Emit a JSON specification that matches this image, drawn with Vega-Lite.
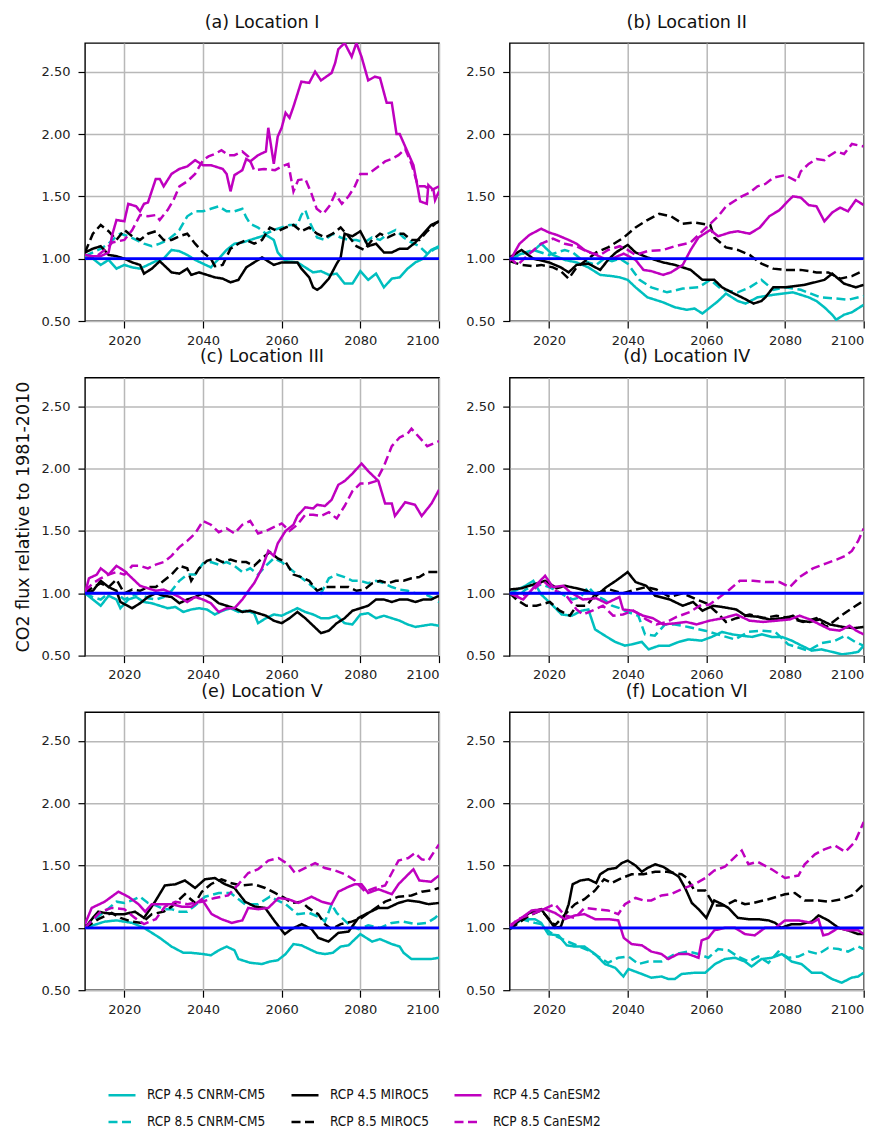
{
  "$schema": "https://vega.github.io/schema/vega-lite/v6.json",
  "padding": {"left": 13, "top": 12, "right": 5, "bottom": 5},
  "background": "#ffffff",
  "config": {
    "font": "DejaVu Sans",
    "view": {"stroke": "#000000", "strokeWidth": 1.4},
    "axis": {
      "grid": true, "gridColor": "#b8b8b8", "gridWidth": 1.5,
      "domain": false, "ticks": true, "tickColor": "#000000", "tickSize": 7, "tickWidth": 1.2,
      "labelFont": "DejaVu Sans", "labelFontSize": 13, "labelColor": "#222222",
      "titleFont": "DejaVu Sans", "titleFontSize": 17.5, "titleFontWeight": "normal", "titleColor": "#111111"
    },
    "axisX": {"labelPadding": 6},
    "axisY": {"labelPadding": 8, "titlePadding": 9},
    "title": {"font": "DejaVu Sans", "fontSize": 17.5, "fontWeight": "normal", "color": "#111111", "offset": 12, "anchor": "middle"},
    "legend": {
      "orient": "none", "legendX": 22, "legendY": 1037, "direction": "horizontal", "columns": 3,
      "columnPadding": 20, "rowPadding": 5, "padding": 0,
      "symbolType": "stroke", "symbolSize": 729, "symbolStrokeWidth": 2.6,
      "labelFont": "DejaVu Sans Condensed, Liberation Sans Narrow, DejaVu Sans", "labelFontSize": 13.5, "labelColor": "#111111",
      "labelOffset": 10, "labelLimit": 300
    }
  },
  "datasets": {
    "locI": [
      {"run":"cn45","year":2010,"flux":1.02},{"run":"cn45","year":2012,"flux":1.0},{"run":"cn45","year":2014,"flux":0.95},{"run":"cn45","year":2016,"flux":0.99},{"run":"cn45","year":2018,"flux":0.92},{"run":"cn45","year":2020,"flux":0.95},{"run":"cn45","year":2022,"flux":0.93},{"run":"cn45","year":2024,"flux":0.92},{"run":"cn45","year":2026,"flux":0.95},{"run":"cn45","year":2028,"flux":0.98},{"run":"cn45","year":2030,"flux":1.0},{"run":"cn45","year":2032,"flux":1.07},{"run":"cn45","year":2034,"flux":1.06},{"run":"cn45","year":2036,"flux":1.03},{"run":"cn45","year":2038,"flux":0.99},{"run":"cn45","year":2040,"flux":0.96},{"run":"cn45","year":2042,"flux":0.93},{"run":"cn45","year":2044,"flux":1.0},{"run":"cn45","year":2046,"flux":1.07},{"run":"cn45","year":2048,"flux":1.12},{"run":"cn45","year":2050,"flux":1.13},{"run":"cn45","year":2052,"flux":1.15},{"run":"cn45","year":2054,"flux":1.17},{"run":"cn45","year":2056,"flux":1.19},{"run":"cn45","year":2058,"flux":1.15},{"run":"cn45","year":2059,"flux":1.05},{"run":"cn45","year":2061,"flux":0.98},{"run":"cn45","year":2064,"flux":0.97},{"run":"cn45","year":2066,"flux":0.93},{"run":"cn45","year":2068,"flux":0.89},{"run":"cn45","year":2070,"flux":0.9},{"run":"cn45","year":2072,"flux":0.87},{"run":"cn45","year":2074,"flux":0.88},{"run":"cn45","year":2076,"flux":0.8},{"run":"cn45","year":2078,"flux":0.8},{"run":"cn45","year":2080,"flux":0.9},{"run":"cn45","year":2082,"flux":0.83},{"run":"cn45","year":2084,"flux":0.88},{"run":"cn45","year":2086,"flux":0.77},{"run":"cn45","year":2088,"flux":0.84},{"run":"cn45","year":2090,"flux":0.85},{"run":"cn45","year":2092,"flux":0.92},{"run":"cn45","year":2094,"flux":0.97},{"run":"cn45","year":2096,"flux":1.0},{"run":"cn45","year":2098,"flux":1.07},{"run":"cn45","year":2100,"flux":1.1},
      {"run":"cn85","year":2010,"flux":1.02},{"run":"cn85","year":2012,"flux":1.05},{"run":"cn85","year":2014,"flux":1.08},{"run":"cn85","year":2016,"flux":1.12},{"run":"cn85","year":2018,"flux":1.18},{"run":"cn85","year":2019,"flux":1.2},{"run":"cn85","year":2021,"flux":1.18},{"run":"cn85","year":2023,"flux":1.15},{"run":"cn85","year":2025,"flux":1.12},{"run":"cn85","year":2027,"flux":1.1},{"run":"cn85","year":2029,"flux":1.12},{"run":"cn85","year":2031,"flux":1.15},{"run":"cn85","year":2033,"flux":1.2},{"run":"cn85","year":2034,"flux":1.23},{"run":"cn85","year":2036,"flux":1.34},{"run":"cn85","year":2038,"flux":1.38},{"run":"cn85","year":2040,"flux":1.38},{"run":"cn85","year":2042,"flux":1.4},{"run":"cn85","year":2044,"flux":1.42},{"run":"cn85","year":2046,"flux":1.38},{"run":"cn85","year":2048,"flux":1.38},{"run":"cn85","year":2050,"flux":1.4},{"run":"cn85","year":2051,"flux":1.33},{"run":"cn85","year":2052,"flux":1.28},{"run":"cn85","year":2054,"flux":1.25},{"run":"cn85","year":2056,"flux":1.2},{"run":"cn85","year":2058,"flux":1.23},{"run":"cn85","year":2060,"flux":1.25},{"run":"cn85","year":2062,"flux":1.27},{"run":"cn85","year":2064,"flux":1.27},{"run":"cn85","year":2065,"flux":1.35},{"run":"cn85","year":2066,"flux":1.39},{"run":"cn85","year":2067,"flux":1.3},{"run":"cn85","year":2069,"flux":1.17},{"run":"cn85","year":2071,"flux":1.15},{"run":"cn85","year":2073,"flux":1.2},{"run":"cn85","year":2075,"flux":1.17},{"run":"cn85","year":2077,"flux":1.15},{"run":"cn85","year":2079,"flux":1.15},{"run":"cn85","year":2081,"flux":1.13},{"run":"cn85","year":2083,"flux":1.17},{"run":"cn85","year":2085,"flux":1.15},{"run":"cn85","year":2087,"flux":1.2},{"run":"cn85","year":2089,"flux":1.23},{"run":"cn85","year":2091,"flux":1.17},{"run":"cn85","year":2093,"flux":1.13},{"run":"cn85","year":2095,"flux":1.1},{"run":"cn85","year":2097,"flux":1.04},{"run":"cn85","year":2099,"flux":1.08},{"run":"cn85","year":2100,"flux":1.09},
      {"run":"mi45","year":2010,"flux":1.05},{"run":"mi45","year":2012,"flux":1.08},{"run":"mi45","year":2014,"flux":1.1},{"run":"mi45","year":2016,"flux":1.03},{"run":"mi45","year":2018,"flux":1.02},{"run":"mi45","year":2020,"flux":1.0},{"run":"mi45","year":2022,"flux":0.97},{"run":"mi45","year":2024,"flux":0.95},{"run":"mi45","year":2025,"flux":0.88},{"run":"mi45","year":2027,"flux":0.92},{"run":"mi45","year":2029,"flux":0.98},{"run":"mi45","year":2030,"flux":0.95},{"run":"mi45","year":2032,"flux":0.89},{"run":"mi45","year":2034,"flux":0.88},{"run":"mi45","year":2036,"flux":0.92},{"run":"mi45","year":2037,"flux":0.87},{"run":"mi45","year":2039,"flux":0.89},{"run":"mi45","year":2041,"flux":0.87},{"run":"mi45","year":2043,"flux":0.85},{"run":"mi45","year":2045,"flux":0.84},{"run":"mi45","year":2047,"flux":0.81},{"run":"mi45","year":2049,"flux":0.83},{"run":"mi45","year":2051,"flux":0.93},{"run":"mi45","year":2053,"flux":0.97},{"run":"mi45","year":2055,"flux":1.01},{"run":"mi45","year":2057,"flux":0.97},{"run":"mi45","year":2058,"flux":0.95},{"run":"mi45","year":2060,"flux":0.97},{"run":"mi45","year":2062,"flux":0.97},{"run":"mi45","year":2064,"flux":0.97},{"run":"mi45","year":2065,"flux":0.92},{"run":"mi45","year":2067,"flux":0.85},{"run":"mi45","year":2068,"flux":0.77},{"run":"mi45","year":2069,"flux":0.75},{"run":"mi45","year":2070,"flux":0.77},{"run":"mi45","year":2072,"flux":0.84},{"run":"mi45","year":2074,"flux":0.96},{"run":"mi45","year":2075,"flux":1.01},{"run":"mi45","year":2076,"flux":1.2},{"run":"mi45","year":2078,"flux":1.18},{"run":"mi45","year":2080,"flux":1.22},{"run":"mi45","year":2082,"flux":1.1},{"run":"mi45","year":2084,"flux":1.12},{"run":"mi45","year":2086,"flux":1.05},{"run":"mi45","year":2088,"flux":1.05},{"run":"mi45","year":2090,"flux":1.08},{"run":"mi45","year":2092,"flux":1.08},{"run":"mi45","year":2094,"flux":1.13},{"run":"mi45","year":2096,"flux":1.2},{"run":"mi45","year":2098,"flux":1.27},{"run":"mi45","year":2100,"flux":1.3},
      {"run":"mi85","year":2010,"flux":1.05},{"run":"mi85","year":2012,"flux":1.2},{"run":"mi85","year":2014,"flux":1.27},{"run":"mi85","year":2016,"flux":1.22},{"run":"mi85","year":2018,"flux":1.15},{"run":"mi85","year":2020,"flux":1.23},{"run":"mi85","year":2022,"flux":1.18},{"run":"mi85","year":2024,"flux":1.15},{"run":"mi85","year":2026,"flux":1.2},{"run":"mi85","year":2028,"flux":1.22},{"run":"mi85","year":2030,"flux":1.15},{"run":"mi85","year":2032,"flux":1.15},{"run":"mi85","year":2034,"flux":1.18},{"run":"mi85","year":2036,"flux":1.2},{"run":"mi85","year":2038,"flux":1.12},{"run":"mi85","year":2040,"flux":1.05},{"run":"mi85","year":2042,"flux":1.0},{"run":"mi85","year":2043,"flux":0.94},{"run":"mi85","year":2045,"flux":0.95},{"run":"mi85","year":2047,"flux":1.08},{"run":"mi85","year":2049,"flux":1.12},{"run":"mi85","year":2051,"flux":1.15},{"run":"mi85","year":2053,"flux":1.12},{"run":"mi85","year":2055,"flux":1.15},{"run":"mi85","year":2057,"flux":1.25},{"run":"mi85","year":2059,"flux":1.22},{"run":"mi85","year":2061,"flux":1.25},{"run":"mi85","year":2063,"flux":1.27},{"run":"mi85","year":2065,"flux":1.22},{"run":"mi85","year":2067,"flux":1.25},{"run":"mi85","year":2069,"flux":1.2},{"run":"mi85","year":2071,"flux":1.17},{"run":"mi85","year":2073,"flux":1.2},{"run":"mi85","year":2075,"flux":1.25},{"run":"mi85","year":2077,"flux":1.18},{"run":"mi85","year":2079,"flux":1.1},{"run":"mi85","year":2081,"flux":1.07},{"run":"mi85","year":2083,"flux":1.15},{"run":"mi85","year":2085,"flux":1.2},{"run":"mi85","year":2087,"flux":1.17},{"run":"mi85","year":2089,"flux":1.2},{"run":"mi85","year":2091,"flux":1.2},{"run":"mi85","year":2093,"flux":1.15},{"run":"mi85","year":2095,"flux":1.15},{"run":"mi85","year":2097,"flux":1.22},{"run":"mi85","year":2099,"flux":1.28},{"run":"mi85","year":2100,"flux":1.3},
      {"run":"ca45","year":2010,"flux":1.03},{"run":"ca45","year":2012,"flux":1.02},{"run":"ca45","year":2014,"flux":1.02},{"run":"ca45","year":2016,"flux":1.05},{"run":"ca45","year":2017,"flux":1.2},{"run":"ca45","year":2018,"flux":1.31},{"run":"ca45","year":2020,"flux":1.3},{"run":"ca45","year":2021,"flux":1.44},{"run":"ca45","year":2023,"flux":1.42},{"run":"ca45","year":2024,"flux":1.38},{"run":"ca45","year":2025,"flux":1.44},{"run":"ca45","year":2026,"flux":1.45},{"run":"ca45","year":2028,"flux":1.64},{"run":"ca45","year":2029,"flux":1.64},{"run":"ca45","year":2030,"flux":1.58},{"run":"ca45","year":2032,"flux":1.68},{"run":"ca45","year":2034,"flux":1.72},{"run":"ca45","year":2036,"flux":1.74},{"run":"ca45","year":2038,"flux":1.79},{"run":"ca45","year":2040,"flux":1.75},{"run":"ca45","year":2042,"flux":1.75},{"run":"ca45","year":2045,"flux":1.72},{"run":"ca45","year":2046,"flux":1.68},{"run":"ca45","year":2047,"flux":1.54},{"run":"ca45","year":2048,"flux":1.67},{"run":"ca45","year":2050,"flux":1.71},{"run":"ca45","year":2051,"flux":1.8},{"run":"ca45","year":2052,"flux":1.78},{"run":"ca45","year":2054,"flux":1.83},{"run":"ca45","year":2056,"flux":1.86},{"run":"ca45","year":2056.6,"flux":2.05},{"run":"ca45","year":2058,"flux":1.76},{"run":"ca45","year":2059,"flux":1.98},{"run":"ca45","year":2060,"flux":2.05},{"run":"ca45","year":2061,"flux":2.17},{"run":"ca45","year":2062,"flux":2.13},{"run":"ca45","year":2063,"flux":2.22},{"run":"ca45","year":2065,"flux":2.42},{"run":"ca45","year":2067,"flux":2.41},{"run":"ca45","year":2068.5,"flux":2.5},{"run":"ca45","year":2070,"flux":2.43},{"run":"ca45","year":2072.7,"flux":2.49},{"run":"ca45","year":2073.6,"flux":2.57},{"run":"ca45","year":2074.4,"flux":2.68},{"run":"ca45","year":2076,"flux":2.73},{"run":"ca45","year":2077.8,"flux":2.62},{"run":"ca45","year":2079,"flux":2.73},{"run":"ca45","year":2080.3,"flux":2.62},{"run":"ca45","year":2082,"flux":2.43},{"run":"ca45","year":2083.7,"flux":2.46},{"run":"ca45","year":2085,"flux":2.45},{"run":"ca45","year":2086.7,"flux":2.25},{"run":"ca45","year":2088,"flux":2.25},{"run":"ca45","year":2089.2,"flux":2.0},{"run":"ca45","year":2090,"flux":2.0},{"run":"ca45","year":2091.4,"flux":1.9},{"run":"ca45","year":2093.5,"flux":1.75},{"run":"ca45","year":2094.7,"flux":1.55},{"run":"ca45","year":2095.2,"flux":1.46},{"run":"ca45","year":2096.9,"flux":1.44},{"run":"ca45","year":2097.3,"flux":1.59},{"run":"ca45","year":2098.6,"flux":1.55},{"run":"ca45","year":2099,"flux":1.47},{"run":"ca45","year":2100,"flux":1.54},
      {"run":"ca85","year":2010,"flux":1.0},{"run":"ca85","year":2013,"flux":1.02},{"run":"ca85","year":2015,"flux":1.07},{"run":"ca85","year":2017,"flux":1.13},{"run":"ca85","year":2020,"flux":1.15},{"run":"ca85","year":2022,"flux":1.23},{"run":"ca85","year":2024,"flux":1.35},{"run":"ca85","year":2026,"flux":1.34},{"run":"ca85","year":2028,"flux":1.35},{"run":"ca85","year":2029,"flux":1.31},{"run":"ca85","year":2031,"flux":1.39},{"run":"ca85","year":2032.5,"flux":1.47},{"run":"ca85","year":2034,"flux":1.58},{"run":"ca85","year":2036,"flux":1.62},{"run":"ca85","year":2038,"flux":1.68},{"run":"ca85","year":2040,"flux":1.79},{"run":"ca85","year":2041.4,"flux":1.82},{"run":"ca85","year":2043,"flux":1.84},{"run":"ca85","year":2044.7,"flux":1.87},{"run":"ca85","year":2046.4,"flux":1.83},{"run":"ca85","year":2048,"flux":1.83},{"run":"ca85","year":2050,"flux":1.86},{"run":"ca85","year":2051.5,"flux":1.82},{"run":"ca85","year":2053,"flux":1.71},{"run":"ca85","year":2055.5,"flux":1.72},{"run":"ca85","year":2058.3,"flux":1.71},{"run":"ca85","year":2060,"flux":1.74},{"run":"ca85","year":2061.7,"flux":1.76},{"run":"ca85","year":2063,"flux":1.54},{"run":"ca85","year":2064.2,"flux":1.63},{"run":"ca85","year":2066,"flux":1.64},{"run":"ca85","year":2067.6,"flux":1.52},{"run":"ca85","year":2068.9,"flux":1.4},{"run":"ca85","year":2070.6,"flux":1.36},{"run":"ca85","year":2072.3,"flux":1.43},{"run":"ca85","year":2073.6,"flux":1.52},{"run":"ca85","year":2075.3,"flux":1.44},{"run":"ca85","year":2077,"flux":1.5},{"run":"ca85","year":2078.6,"flux":1.58},{"run":"ca85","year":2080,"flux":1.68},{"run":"ca85","year":2082,"flux":1.68},{"run":"ca85","year":2084.6,"flux":1.74},{"run":"ca85","year":2086.3,"flux":1.78},{"run":"ca85","year":2088,"flux":1.8},{"run":"ca85","year":2089.7,"flux":1.83},{"run":"ca85","year":2091.4,"flux":1.88},{"run":"ca85","year":2093,"flux":1.76},{"run":"ca85","year":2094.7,"flux":1.58},{"run":"ca85","year":2096.4,"flux":1.58},{"run":"ca85","year":2098.1,"flux":1.55},{"run":"ca85","year":2100,"flux":1.58}
    ],
    "locII": [
      {"run":"cn45","year":2010,"flux":1.0},{"run":"cn45","year":2013,"flux":1.04},{"run":"cn45","year":2016,"flux":1.06},{"run":"cn45","year":2018,"flux":1.12},{"run":"cn45","year":2021,"flux":1.03},{"run":"cn45","year":2024,"flux":0.99},{"run":"cn45","year":2027,"flux":0.97},{"run":"cn45","year":2030,"flux":0.93},{"run":"cn45","year":2033,"flux":0.87},{"run":"cn45","year":2036,"flux":0.86},{"run":"cn45","year":2038,"flux":0.85},{"run":"cn45","year":2040,"flux":0.83},{"run":"cn45","year":2042,"flux":0.77},{"run":"cn45","year":2045,"flux":0.69},{"run":"cn45","year":2049,"flux":0.65},{"run":"cn45","year":2052,"flux":0.61},{"run":"cn45","year":2055,"flux":0.59},{"run":"cn45","year":2057,"flux":0.6},{"run":"cn45","year":2059,"flux":0.56},{"run":"cn45","year":2061,"flux":0.61},{"run":"cn45","year":2063,"flux":0.66},{"run":"cn45","year":2065,"flux":0.72},{"run":"cn45","year":2068,"flux":0.66},{"run":"cn45","year":2070,"flux":0.64},{"run":"cn45","year":2073,"flux":0.69},{"run":"cn45","year":2077,"flux":0.71},{"run":"cn45","year":2082,"flux":0.73},{"run":"cn45","year":2086,"flux":0.69},{"run":"cn45","year":2088,"flux":0.66},{"run":"cn45","year":2090,"flux":0.61},{"run":"cn45","year":2092,"flux":0.55},{"run":"cn45","year":2093,"flux":0.51},{"run":"cn45","year":2095,"flux":0.55},{"run":"cn45","year":2097,"flux":0.57},{"run":"cn45","year":2100,"flux":0.63},
      {"run":"cn85","year":2010,"flux":1.0},{"run":"cn85","year":2012,"flux":1.02},{"run":"cn85","year":2014,"flux":1.05},{"run":"cn85","year":2016,"flux":1.07},{"run":"cn85","year":2018,"flux":1.05},{"run":"cn85","year":2020,"flux":1.03},{"run":"cn85","year":2022,"flux":1.05},{"run":"cn85","year":2024,"flux":1.07},{"run":"cn85","year":2026,"flux":1.05},{"run":"cn85","year":2028,"flux":1.0},{"run":"cn85","year":2030,"flux":0.97},{"run":"cn85","year":2032,"flux":0.95},{"run":"cn85","year":2034,"flux":1.0},{"run":"cn85","year":2036,"flux":0.98},{"run":"cn85","year":2038,"flux":1.0},{"run":"cn85","year":2040,"flux":0.96},{"run":"cn85","year":2043,"flux":0.83},{"run":"cn85","year":2046,"flux":0.77},{"run":"cn85","year":2050,"flux":0.73},{"run":"cn85","year":2054,"flux":0.76},{"run":"cn85","year":2058,"flux":0.77},{"run":"cn85","year":2061,"flux":0.83},{"run":"cn85","year":2064,"flux":0.75},{"run":"cn85","year":2068,"flux":0.73},{"run":"cn85","year":2071,"flux":0.77},{"run":"cn85","year":2074,"flux":0.83},{"run":"cn85","year":2077,"flux":0.75},{"run":"cn85","year":2080,"flux":0.77},{"run":"cn85","year":2084,"flux":0.75},{"run":"cn85","year":2089,"flux":0.69},{"run":"cn85","year":2093,"flux":0.68},{"run":"cn85","year":2096,"flux":0.67},{"run":"cn85","year":2100,"flux":0.7},
      {"run":"mi45","year":2010,"flux":1.01},{"run":"mi45","year":2013,"flux":1.07},{"run":"mi45","year":2016,"flux":1.0},{"run":"mi45","year":2020,"flux":0.97},{"run":"mi45","year":2023,"flux":0.93},{"run":"mi45","year":2025,"flux":0.89},{"run":"mi45","year":2027,"flux":0.95},{"run":"mi45","year":2030,"flux":0.96},{"run":"mi45","year":2033,"flux":0.91},{"run":"mi45","year":2035,"flux":0.99},{"run":"mi45","year":2037,"flux":1.05},{"run":"mi45","year":2040,"flux":1.11},{"run":"mi45","year":2042,"flux":1.05},{"run":"mi45","year":2045,"flux":1.01},{"run":"mi45","year":2049,"flux":0.97},{"run":"mi45","year":2052,"flux":0.95},{"run":"mi45","year":2056,"flux":0.91},{"run":"mi45","year":2059,"flux":0.83},{"run":"mi45","year":2062,"flux":0.83},{"run":"mi45","year":2064,"flux":0.77},{"run":"mi45","year":2067,"flux":0.72},{"run":"mi45","year":2069,"flux":0.69},{"run":"mi45","year":2072,"flux":0.64},{"run":"mi45","year":2074,"flux":0.66},{"run":"mi45","year":2075,"flux":0.69},{"run":"mi45","year":2077,"flux":0.77},{"run":"mi45","year":2080,"flux":0.77},{"run":"mi45","year":2085,"flux":0.79},{"run":"mi45","year":2090,"flux":0.83},{"run":"mi45","year":2092,"flux":0.88},{"run":"mi45","year":2095,"flux":0.8},{"run":"mi45","year":2098,"flux":0.77},{"run":"mi45","year":2100,"flux":0.79},
      {"run":"mi85","year":2010,"flux":0.98},{"run":"mi85","year":2013,"flux":0.95},{"run":"mi85","year":2016,"flux":0.94},{"run":"mi85","year":2018,"flux":0.95},{"run":"mi85","year":2021,"flux":0.93},{"run":"mi85","year":2023,"flux":0.9},{"run":"mi85","year":2025,"flux":0.84},{"run":"mi85","year":2027,"flux":0.93},{"run":"mi85","year":2030,"flux":1.0},{"run":"mi85","year":2032,"flux":1.05},{"run":"mi85","year":2035,"flux":1.09},{"run":"mi85","year":2039,"flux":1.17},{"run":"mi85","year":2042,"flux":1.25},{"run":"mi85","year":2045,"flux":1.31},{"run":"mi85","year":2048,"flux":1.36},{"run":"mi85","year":2051,"flux":1.34},{"run":"mi85","year":2054,"flux":1.28},{"run":"mi85","year":2057,"flux":1.29},{"run":"mi85","year":2061,"flux":1.27},{"run":"mi85","year":2062,"flux":1.17},{"run":"mi85","year":2065,"flux":1.09},{"run":"mi85","year":2068,"flux":1.07},{"run":"mi85","year":2071,"flux":1.03},{"run":"mi85","year":2074,"flux":0.96},{"run":"mi85","year":2077,"flux":0.92},{"run":"mi85","year":2080,"flux":0.91},{"run":"mi85","year":2084,"flux":0.91},{"run":"mi85","year":2088,"flux":0.89},{"run":"mi85","year":2091,"flux":0.89},{"run":"mi85","year":2094,"flux":0.84},{"run":"mi85","year":2097,"flux":0.86},{"run":"mi85","year":2099,"flux":0.89},{"run":"mi85","year":2100,"flux":0.88},
      {"run":"ca45","year":2010,"flux":0.98},{"run":"ca45","year":2012.5,"flux":1.12},{"run":"ca45","year":2015,"flux":1.19},{"run":"ca45","year":2018,"flux":1.24},{"run":"ca45","year":2020,"flux":1.21},{"run":"ca45","year":2022,"flux":1.19},{"run":"ca45","year":2025,"flux":1.15},{"run":"ca45","year":2027,"flux":1.12},{"run":"ca45","year":2029,"flux":1.07},{"run":"ca45","year":2032,"flux":1.03},{"run":"ca45","year":2034,"flux":1.0},{"run":"ca45","year":2036,"flux":1.0},{"run":"ca45","year":2039,"flux":1.04},{"run":"ca45","year":2042,"flux":0.99},{"run":"ca45","year":2044,"flux":0.91},{"run":"ca45","year":2046,"flux":0.9},{"run":"ca45","year":2049,"flux":0.87},{"run":"ca45","year":2051,"flux":0.89},{"run":"ca45","year":2054,"flux":0.95},{"run":"ca45","year":2056,"flux":1.07},{"run":"ca45","year":2058,"flux":1.17},{"run":"ca45","year":2061,"flux":1.23},{"run":"ca45","year":2063,"flux":1.18},{"run":"ca45","year":2066,"flux":1.21},{"run":"ca45","year":2068,"flux":1.22},{"run":"ca45","year":2071,"flux":1.2},{"run":"ca45","year":2073.6,"flux":1.25},{"run":"ca45","year":2076,"flux":1.34},{"run":"ca45","year":2078.6,"flux":1.39},{"run":"ca45","year":2081,"flux":1.47},{"run":"ca45","year":2082,"flux":1.5},{"run":"ca45","year":2084,"flux":1.49},{"run":"ca45","year":2086,"flux":1.43},{"run":"ca45","year":2088,"flux":1.42},{"run":"ca45","year":2090,"flux":1.3},{"run":"ca45","year":2092,"flux":1.37},{"run":"ca45","year":2094,"flux":1.41},{"run":"ca45","year":2096,"flux":1.38},{"run":"ca45","year":2098,"flux":1.47},{"run":"ca45","year":2100,"flux":1.43},
      {"run":"ca85","year":2010,"flux":1.01},{"run":"ca85","year":2012,"flux":0.95},{"run":"ca85","year":2015,"flux":1.04},{"run":"ca85","year":2018,"flux":1.12},{"run":"ca85","year":2021,"flux":1.16},{"run":"ca85","year":2024,"flux":1.12},{"run":"ca85","year":2027,"flux":1.1},{"run":"ca85","year":2030,"flux":1.05},{"run":"ca85","year":2033,"flux":1.03},{"run":"ca85","year":2035,"flux":1.07},{"run":"ca85","year":2038,"flux":1.1},{"run":"ca85","year":2040,"flux":1.07},{"run":"ca85","year":2042,"flux":1.03},{"run":"ca85","year":2045,"flux":1.06},{"run":"ca85","year":2049,"flux":1.07},{"run":"ca85","year":2052,"flux":1.1},{"run":"ca85","year":2056,"flux":1.13},{"run":"ca85","year":2058,"flux":1.19},{"run":"ca85","year":2061,"flux":1.28},{"run":"ca85","year":2063,"flux":1.34},{"run":"ca85","year":2065,"flux":1.42},{"run":"ca85","year":2069,"flux":1.5},{"run":"ca85","year":2071,"flux":1.53},{"run":"ca85","year":2073,"flux":1.58},{"run":"ca85","year":2075,"flux":1.6},{"run":"ca85","year":2077,"flux":1.65},{"run":"ca85","year":2080,"flux":1.67},{"run":"ca85","year":2083,"flux":1.62},{"run":"ca85","year":2084,"flux":1.7},{"run":"ca85","year":2086,"flux":1.76},{"run":"ca85","year":2088,"flux":1.8},{"run":"ca85","year":2090,"flux":1.79},{"run":"ca85","year":2091,"flux":1.82},{"run":"ca85","year":2093,"flux":1.86},{"run":"ca85","year":2095,"flux":1.84},{"run":"ca85","year":2097,"flux":1.92},{"run":"ca85","year":2100,"flux":1.9}
    ],
    "locIII": [
      {"run":"cn45","year":2010,"flux":1.0},{"run":"cn45","year":2012,"flux":0.95},{"run":"cn45","year":2014,"flux":0.9},{"run":"cn45","year":2016,"flux":0.98},{"run":"cn45","year":2018,"flux":0.95},{"run":"cn45","year":2019,"flux":0.88},{"run":"cn45","year":2021,"flux":0.95},{"run":"cn45","year":2023,"flux":0.97},{"run":"cn45","year":2025,"flux":0.93},{"run":"cn45","year":2027,"flux":0.92},{"run":"cn45","year":2029,"flux":0.9},{"run":"cn45","year":2031,"flux":0.88},{"run":"cn45","year":2033,"flux":0.89},{"run":"cn45","year":2035,"flux":0.85},{"run":"cn45","year":2037,"flux":0.87},{"run":"cn45","year":2039,"flux":0.88},{"run":"cn45","year":2041,"flux":0.87},{"run":"cn45","year":2043,"flux":0.83},{"run":"cn45","year":2045,"flux":0.86},{"run":"cn45","year":2047,"flux":0.88},{"run":"cn45","year":2049,"flux":0.85},{"run":"cn45","year":2051,"flux":0.86},{"run":"cn45","year":2053,"flux":0.84},{"run":"cn45","year":2054,"flux":0.76},{"run":"cn45","year":2056,"flux":0.8},{"run":"cn45","year":2058,"flux":0.83},{"run":"cn45","year":2060,"flux":0.82},{"run":"cn45","year":2062,"flux":0.85},{"run":"cn45","year":2064,"flux":0.88},{"run":"cn45","year":2066,"flux":0.85},{"run":"cn45","year":2068,"flux":0.83},{"run":"cn45","year":2070,"flux":0.8},{"run":"cn45","year":2072,"flux":0.8},{"run":"cn45","year":2074,"flux":0.82},{"run":"cn45","year":2076,"flux":0.76},{"run":"cn45","year":2078,"flux":0.75},{"run":"cn45","year":2080,"flux":0.83},{"run":"cn45","year":2082,"flux":0.84},{"run":"cn45","year":2084,"flux":0.8},{"run":"cn45","year":2086,"flux":0.82},{"run":"cn45","year":2088,"flux":0.8},{"run":"cn45","year":2090,"flux":0.78},{"run":"cn45","year":2092,"flux":0.75},{"run":"cn45","year":2094,"flux":0.73},{"run":"cn45","year":2096,"flux":0.74},{"run":"cn45","year":2098,"flux":0.75},{"run":"cn45","year":2100,"flux":0.74},
      {"run":"cn85","year":2010,"flux":1.0},{"run":"cn85","year":2012,"flux":0.97},{"run":"cn85","year":2014,"flux":0.95},{"run":"cn85","year":2016,"flux":1.0},{"run":"cn85","year":2018,"flux":1.0},{"run":"cn85","year":2020,"flux":0.95},{"run":"cn85","year":2022,"flux":0.98},{"run":"cn85","year":2024,"flux":1.0},{"run":"cn85","year":2026,"flux":0.96},{"run":"cn85","year":2028,"flux":0.95},{"run":"cn85","year":2030,"flux":0.97},{"run":"cn85","year":2032,"flux":1.02},{"run":"cn85","year":2034,"flux":1.1},{"run":"cn85","year":2036,"flux":1.15},{"run":"cn85","year":2038,"flux":1.15},{"run":"cn85","year":2040,"flux":1.24},{"run":"cn85","year":2042,"flux":1.25},{"run":"cn85","year":2044,"flux":1.23},{"run":"cn85","year":2046,"flux":1.25},{"run":"cn85","year":2048,"flux":1.22},{"run":"cn85","year":2050,"flux":1.17},{"run":"cn85","year":2052,"flux":1.2},{"run":"cn85","year":2054,"flux":1.15},{"run":"cn85","year":2056,"flux":1.22},{"run":"cn85","year":2058,"flux":1.28},{"run":"cn85","year":2060,"flux":1.25},{"run":"cn85","year":2062,"flux":1.2},{"run":"cn85","year":2064,"flux":1.15},{"run":"cn85","year":2066,"flux":1.1},{"run":"cn85","year":2068,"flux":1.05},{"run":"cn85","year":2070,"flux":1.0},{"run":"cn85","year":2072,"flux":1.12},{"run":"cn85","year":2074,"flux":1.15},{"run":"cn85","year":2076,"flux":1.13},{"run":"cn85","year":2078,"flux":1.1},{"run":"cn85","year":2080,"flux":1.1},{"run":"cn85","year":2082,"flux":1.08},{"run":"cn85","year":2084,"flux":1.1},{"run":"cn85","year":2086,"flux":1.08},{"run":"cn85","year":2088,"flux":1.05},{"run":"cn85","year":2090,"flux":1.03},{"run":"cn85","year":2092,"flux":1.02},{"run":"cn85","year":2094,"flux":1.0},{"run":"cn85","year":2096,"flux":1.0},{"run":"cn85","year":2098,"flux":0.97},{"run":"cn85","year":2100,"flux":0.93},
      {"run":"mi45","year":2010,"flux":1.0},{"run":"mi45","year":2012,"flux":1.02},{"run":"mi45","year":2014,"flux":1.1},{"run":"mi45","year":2016,"flux":1.05},{"run":"mi45","year":2018,"flux":1.02},{"run":"mi45","year":2019,"flux":0.93},{"run":"mi45","year":2022,"flux":0.88},{"run":"mi45","year":2024,"flux":0.92},{"run":"mi45","year":2026,"flux":0.97},{"run":"mi45","year":2028,"flux":1.0},{"run":"mi45","year":2030,"flux":0.98},{"run":"mi45","year":2032,"flux":0.97},{"run":"mi45","year":2034,"flux":0.92},{"run":"mi45","year":2036,"flux":0.95},{"run":"mi45","year":2038,"flux":0.97},{"run":"mi45","year":2040,"flux":1.0},{"run":"mi45","year":2042,"flux":0.97},{"run":"mi45","year":2044,"flux":0.92},{"run":"mi45","year":2046,"flux":0.9},{"run":"mi45","year":2048,"flux":0.88},{"run":"mi45","year":2050,"flux":0.85},{"run":"mi45","year":2052,"flux":0.86},{"run":"mi45","year":2054,"flux":0.84},{"run":"mi45","year":2056,"flux":0.82},{"run":"mi45","year":2058,"flux":0.78},{"run":"mi45","year":2060,"flux":0.76},{"run":"mi45","year":2062,"flux":0.8},{"run":"mi45","year":2064,"flux":0.85},{"run":"mi45","year":2066,"flux":0.8},{"run":"mi45","year":2068,"flux":0.74},{"run":"mi45","year":2070,"flux":0.68},{"run":"mi45","year":2072,"flux":0.7},{"run":"mi45","year":2074,"flux":0.76},{"run":"mi45","year":2076,"flux":0.8},{"run":"mi45","year":2078,"flux":0.86},{"run":"mi45","year":2080,"flux":0.88},{"run":"mi45","year":2082,"flux":0.9},{"run":"mi45","year":2084,"flux":0.95},{"run":"mi45","year":2086,"flux":0.95},{"run":"mi45","year":2088,"flux":0.93},{"run":"mi45","year":2090,"flux":0.95},{"run":"mi45","year":2092,"flux":0.95},{"run":"mi45","year":2094,"flux":0.93},{"run":"mi45","year":2096,"flux":0.95},{"run":"mi45","year":2098,"flux":0.95},{"run":"mi45","year":2100,"flux":0.98},
      {"run":"mi85","year":2010,"flux":1.0},{"run":"mi85","year":2012,"flux":1.05},{"run":"mi85","year":2014,"flux":1.08},{"run":"mi85","year":2016,"flux":1.05},{"run":"mi85","year":2018,"flux":1.11},{"run":"mi85","year":2020,"flux":1.0},{"run":"mi85","year":2022,"flux":1.03},{"run":"mi85","year":2024,"flux":1.02},{"run":"mi85","year":2026,"flux":1.05},{"run":"mi85","year":2028,"flux":1.05},{"run":"mi85","year":2030,"flux":1.1},{"run":"mi85","year":2032,"flux":1.15},{"run":"mi85","year":2034,"flux":1.22},{"run":"mi85","year":2036,"flux":1.2},{"run":"mi85","year":2037,"flux":1.1},{"run":"mi85","year":2039,"flux":1.2},{"run":"mi85","year":2041,"flux":1.26},{"run":"mi85","year":2043,"flux":1.28},{"run":"mi85","year":2045,"flux":1.25},{"run":"mi85","year":2047,"flux":1.27},{"run":"mi85","year":2049,"flux":1.25},{"run":"mi85","year":2051,"flux":1.25},{"run":"mi85","year":2053,"flux":1.22},{"run":"mi85","year":2055,"flux":1.28},{"run":"mi85","year":2057,"flux":1.33},{"run":"mi85","year":2059,"flux":1.28},{"run":"mi85","year":2061,"flux":1.25},{"run":"mi85","year":2063,"flux":1.15},{"run":"mi85","year":2065,"flux":1.13},{"run":"mi85","year":2067,"flux":1.1},{"run":"mi85","year":2069,"flux":1.02},{"run":"mi85","year":2071,"flux":1.05},{"run":"mi85","year":2073,"flux":1.05},{"run":"mi85","year":2075,"flux":1.05},{"run":"mi85","year":2077,"flux":1.05},{"run":"mi85","year":2079,"flux":1.02},{"run":"mi85","year":2081,"flux":1.03},{"run":"mi85","year":2083,"flux":1.08},{"run":"mi85","year":2085,"flux":1.1},{"run":"mi85","year":2087,"flux":1.08},{"run":"mi85","year":2089,"flux":1.1},{"run":"mi85","year":2091,"flux":1.1},{"run":"mi85","year":2093,"flux":1.12},{"run":"mi85","year":2095,"flux":1.13},{"run":"mi85","year":2097,"flux":1.17},{"run":"mi85","year":2100,"flux":1.17},
      {"run":"ca45","year":2010,"flux":1.0},{"run":"ca45","year":2011,"flux":1.12},{"run":"ca45","year":2013,"flux":1.15},{"run":"ca45","year":2014,"flux":1.2},{"run":"ca45","year":2016,"flux":1.15},{"run":"ca45","year":2018,"flux":1.22},{"run":"ca45","year":2020,"flux":1.18},{"run":"ca45","year":2022,"flux":1.12},{"run":"ca45","year":2024,"flux":1.06},{"run":"ca45","year":2026,"flux":1.04},{"run":"ca45","year":2028,"flux":1.02},{"run":"ca45","year":2030,"flux":1.03},{"run":"ca45","year":2032,"flux":1.0},{"run":"ca45","year":2034,"flux":0.97},{"run":"ca45","year":2036,"flux":0.93},{"run":"ca45","year":2038,"flux":0.97},{"run":"ca45","year":2040,"flux":0.95},{"run":"ca45","year":2042,"flux":0.92},{"run":"ca45","year":2044,"flux":0.85},{"run":"ca45","year":2046,"flux":0.88},{"run":"ca45","year":2048,"flux":0.88},{"run":"ca45","year":2050,"flux":0.95},{"run":"ca45","year":2052,"flux":1.04},{"run":"ca45","year":2053,"flux":1.08},{"run":"ca45","year":2055,"flux":1.2},{"run":"ca45","year":2056.6,"flux":1.34},{"run":"ca45","year":2058,"flux":1.3},{"run":"ca45","year":2059,"flux":1.4},{"run":"ca45","year":2061,"flux":1.5},{"run":"ca45","year":2063,"flux":1.55},{"run":"ca45","year":2064,"flux":1.62},{"run":"ca45","year":2066,"flux":1.69},{"run":"ca45","year":2068,"flux":1.68},{"run":"ca45","year":2069,"flux":1.71},{"run":"ca45","year":2071,"flux":1.7},{"run":"ca45","year":2072.7,"flux":1.75},{"run":"ca45","year":2074.4,"flux":1.87},{"run":"ca45","year":2076,"flux":1.9},{"run":"ca45","year":2077,"flux":1.93},{"run":"ca45","year":2078,"flux":1.96},{"run":"ca45","year":2080.3,"flux":2.04},{"run":"ca45","year":2082,"flux":1.98},{"run":"ca45","year":2084.6,"flux":1.9},{"run":"ca45","year":2086.3,"flux":1.72},{"run":"ca45","year":2088,"flux":1.72},{"run":"ca45","year":2088.8,"flux":1.62},{"run":"ca45","year":2091.4,"flux":1.73},{"run":"ca45","year":2093.9,"flux":1.71},{"run":"ca45","year":2095.6,"flux":1.62},{"run":"ca45","year":2098.1,"flux":1.72},{"run":"ca45","year":2100,"flux":1.83},
      {"run":"ca85","year":2010,"flux":1.02},{"run":"ca85","year":2012,"flux":1.08},{"run":"ca85","year":2014,"flux":1.12},{"run":"ca85","year":2016,"flux":1.15},{"run":"ca85","year":2018,"flux":1.17},{"run":"ca85","year":2020,"flux":1.15},{"run":"ca85","year":2022,"flux":1.22},{"run":"ca85","year":2024,"flux":1.22},{"run":"ca85","year":2026,"flux":1.2},{"run":"ca85","year":2028,"flux":1.23},{"run":"ca85","year":2030,"flux":1.25},{"run":"ca85","year":2032,"flux":1.3},{"run":"ca85","year":2034,"flux":1.37},{"run":"ca85","year":2036,"flux":1.42},{"run":"ca85","year":2038,"flux":1.48},{"run":"ca85","year":2040,"flux":1.58},{"run":"ca85","year":2042,"flux":1.55},{"run":"ca85","year":2044,"flux":1.49},{"run":"ca85","year":2046,"flux":1.52},{"run":"ca85","year":2048,"flux":1.48},{"run":"ca85","year":2050,"flux":1.55},{"run":"ca85","year":2052,"flux":1.58},{"run":"ca85","year":2054,"flux":1.48},{"run":"ca85","year":2056,"flux":1.5},{"run":"ca85","year":2058,"flux":1.53},{"run":"ca85","year":2060,"flux":1.56},{"run":"ca85","year":2062,"flux":1.5},{"run":"ca85","year":2064,"flux":1.55},{"run":"ca85","year":2066,"flux":1.63},{"run":"ca85","year":2068,"flux":1.63},{"run":"ca85","year":2070,"flux":1.62},{"run":"ca85","year":2072,"flux":1.65},{"run":"ca85","year":2074,"flux":1.6},{"run":"ca85","year":2076,"flux":1.7},{"run":"ca85","year":2078,"flux":1.82},{"run":"ca85","year":2080,"flux":1.88},{"run":"ca85","year":2082,"flux":1.88},{"run":"ca85","year":2084,"flux":1.9},{"run":"ca85","year":2086,"flux":2.02},{"run":"ca85","year":2088,"flux":2.18},{"run":"ca85","year":2090,"flux":2.25},{"run":"ca85","year":2092,"flux":2.28},{"run":"ca85","year":2093,"flux":2.32},{"run":"ca85","year":2095,"flux":2.25},{"run":"ca85","year":2097,"flux":2.18},{"run":"ca85","year":2100,"flux":2.22}
    ],
    "locIV": [
      {"run":"cn45","year":2010,"flux":1.0},{"run":"cn45","year":2014,"flux":1.06},{"run":"cn45","year":2016,"flux":1.1},{"run":"cn45","year":2018,"flux":0.99},{"run":"cn45","year":2020.7,"flux":0.91},{"run":"cn45","year":2023.2,"flux":0.83},{"run":"cn45","year":2025.8,"flux":0.82},{"run":"cn45","year":2028.3,"flux":0.86},{"run":"cn45","year":2030,"flux":0.87},{"run":"cn45","year":2031.7,"flux":0.71},{"run":"cn45","year":2034.2,"flux":0.66},{"run":"cn45","year":2036.8,"flux":0.61},{"run":"cn45","year":2039.3,"flux":0.58},{"run":"cn45","year":2041,"flux":0.59},{"run":"cn45","year":2043.6,"flux":0.61},{"run":"cn45","year":2045.3,"flux":0.55},{"run":"cn45","year":2048,"flux":0.58},{"run":"cn45","year":2050.6,"flux":0.58},{"run":"cn45","year":2053,"flux":0.61},{"run":"cn45","year":2055.4,"flux":0.63},{"run":"cn45","year":2058.8,"flux":0.62},{"run":"cn45","year":2061.4,"flux":0.65},{"run":"cn45","year":2064,"flux":0.69},{"run":"cn45","year":2066.6,"flux":0.67},{"run":"cn45","year":2069,"flux":0.66},{"run":"cn45","year":2071.6,"flux":0.65},{"run":"cn45","year":2074.1,"flux":0.67},{"run":"cn45","year":2076.6,"flux":0.65},{"run":"cn45","year":2079.2,"flux":0.65},{"run":"cn45","year":2081.7,"flux":0.62},{"run":"cn45","year":2084.2,"flux":0.58},{"run":"cn45","year":2086.8,"flux":0.54},{"run":"cn45","year":2089.3,"flux":0.55},{"run":"cn45","year":2091.9,"flux":0.53},{"run":"cn45","year":2094.4,"flux":0.51},{"run":"cn45","year":2096.9,"flux":0.52},{"run":"cn45","year":2098.6,"flux":0.53},{"run":"cn45","year":2100,"flux":0.58},
      {"run":"cn85","year":2010,"flux":1.0},{"run":"cn85","year":2012,"flux":0.97},{"run":"cn85","year":2014,"flux":1.03},{"run":"cn85","year":2016,"flux":1.05},{"run":"cn85","year":2018,"flux":1.07},{"run":"cn85","year":2020,"flux":1.05},{"run":"cn85","year":2022,"flux":1.02},{"run":"cn85","year":2024,"flux":0.98},{"run":"cn85","year":2026,"flux":0.95},{"run":"cn85","year":2028,"flux":0.97},{"run":"cn85","year":2030,"flux":1.05},{"run":"cn85","year":2032,"flux":0.98},{"run":"cn85","year":2034,"flux":0.95},{"run":"cn85","year":2036,"flux":0.9},{"run":"cn85","year":2038,"flux":0.88},{"run":"cn85","year":2040,"flux":0.85},{"run":"cn85","year":2042.7,"flux":0.82},{"run":"cn85","year":2044.4,"flux":0.67},{"run":"cn85","year":2046.9,"flux":0.66},{"run":"cn85","year":2049.5,"flux":0.75},{"run":"cn85","year":2052,"flux":0.75},{"run":"cn85","year":2055.4,"flux":0.73},{"run":"cn85","year":2059.7,"flux":0.7},{"run":"cn85","year":2063.9,"flux":0.66},{"run":"cn85","year":2067.3,"flux":0.63},{"run":"cn85","year":2070.7,"flux":0.69},{"run":"cn85","year":2074.1,"flux":0.7},{"run":"cn85","year":2077.5,"flux":0.69},{"run":"cn85","year":2080.8,"flux":0.59},{"run":"cn85","year":2085.9,"flux":0.54},{"run":"cn85","year":2089.3,"flux":0.6},{"run":"cn85","year":2092.7,"flux":0.62},{"run":"cn85","year":2095.3,"flux":0.66},{"run":"cn85","year":2097.8,"flux":0.61},{"run":"cn85","year":2100,"flux":0.58},
      {"run":"mi45","year":2010,"flux":1.03},{"run":"mi45","year":2013,"flux":1.04},{"run":"mi45","year":2017,"flux":1.08},{"run":"mi45","year":2019,"flux":1.1},{"run":"mi45","year":2022,"flux":1.04},{"run":"mi45","year":2024,"flux":1.06},{"run":"mi45","year":2027,"flux":1.04},{"run":"mi45","year":2029.5,"flux":1.02},{"run":"mi45","year":2032,"flux":0.98},{"run":"mi45","year":2034.6,"flux":1.05},{"run":"mi45","year":2037,"flux":1.1},{"run":"mi45","year":2040,"flux":1.17},{"run":"mi45","year":2042,"flux":1.09},{"run":"mi45","year":2044.7,"flux":1.06},{"run":"mi45","year":2047,"flux":0.98},{"run":"mi45","year":2050.7,"flux":0.95},{"run":"mi45","year":2054,"flux":0.9},{"run":"mi45","year":2056.6,"flux":0.93},{"run":"mi45","year":2059,"flux":0.86},{"run":"mi45","year":2061.7,"flux":0.9},{"run":"mi45","year":2064,"flux":0.89},{"run":"mi45","year":2067.6,"flux":0.87},{"run":"mi45","year":2070,"flux":0.82},{"run":"mi45","year":2073.6,"flux":0.81},{"run":"mi45","year":2076,"flux":0.79},{"run":"mi45","year":2079.5,"flux":0.8},{"run":"mi45","year":2082,"flux":0.82},{"run":"mi45","year":2083.7,"flux":0.78},{"run":"mi45","year":2086.3,"flux":0.77},{"run":"mi45","year":2088.8,"flux":0.79},{"run":"mi45","year":2091.4,"flux":0.75},{"run":"mi45","year":2094.7,"flux":0.73},{"run":"mi45","year":2097.4,"flux":0.72},{"run":"mi45","year":2100,"flux":0.73},
      {"run":"mi85","year":2010,"flux":1.0},{"run":"mi85","year":2011.7,"flux":0.95},{"run":"mi85","year":2014.2,"flux":0.9},{"run":"mi85","year":2016.8,"flux":0.9},{"run":"mi85","year":2020.2,"flux":0.93},{"run":"mi85","year":2022.7,"flux":0.86},{"run":"mi85","year":2025.3,"flux":0.82},{"run":"mi85","year":2027,"flux":0.9},{"run":"mi85","year":2029.5,"flux":0.9},{"run":"mi85","year":2032,"flux":1.0},{"run":"mi85","year":2035.4,"flux":1.03},{"run":"mi85","year":2038.8,"flux":1.0},{"run":"mi85","year":2042.2,"flux":1.03},{"run":"mi85","year":2044.7,"flux":1.05},{"run":"mi85","year":2047.3,"flux":1.03},{"run":"mi85","year":2050.7,"flux":0.97},{"run":"mi85","year":2054,"flux":1.0},{"run":"mi85","year":2057.5,"flux":0.95},{"run":"mi85","year":2060,"flux":0.92},{"run":"mi85","year":2062.5,"flux":0.85},{"run":"mi85","year":2065,"flux":0.77},{"run":"mi85","year":2067.6,"flux":0.8},{"run":"mi85","year":2071,"flux":0.83},{"run":"mi85","year":2074.4,"flux":0.8},{"run":"mi85","year":2077.8,"flux":0.82},{"run":"mi85","year":2081.2,"flux":0.8},{"run":"mi85","year":2084.6,"flux":0.77},{"run":"mi85","year":2088,"flux":0.8},{"run":"mi85","year":2090.5,"flux":0.73},{"run":"mi85","year":2093,"flux":0.79},{"run":"mi85","year":2095.6,"flux":0.85},{"run":"mi85","year":2098,"flux":0.9},{"run":"mi85","year":2100,"flux":0.94},
      {"run":"ca45","year":2010,"flux":1.0},{"run":"ca45","year":2013.4,"flux":0.95},{"run":"ca45","year":2016.8,"flux":1.07},{"run":"ca45","year":2019,"flux":1.14},{"run":"ca45","year":2021,"flux":1.05},{"run":"ca45","year":2023.6,"flux":1.06},{"run":"ca45","year":2025.3,"flux":1.01},{"run":"ca45","year":2028.6,"flux":0.95},{"run":"ca45","year":2032,"flux":0.96},{"run":"ca45","year":2034.6,"flux":0.92},{"run":"ca45","year":2037.9,"flux":0.97},{"run":"ca45","year":2038.8,"flux":0.87},{"run":"ca45","year":2041.4,"flux":0.86},{"run":"ca45","year":2043.9,"flux":0.82},{"run":"ca45","year":2046.4,"flux":0.8},{"run":"ca45","year":2049,"flux":0.75},{"run":"ca45","year":2052.4,"flux":0.76},{"run":"ca45","year":2054.9,"flux":0.77},{"run":"ca45","year":2057.5,"flux":0.75},{"run":"ca45","year":2060.8,"flux":0.78},{"run":"ca45","year":2064.2,"flux":0.8},{"run":"ca45","year":2067.6,"flux":0.83},{"run":"ca45","year":2071,"flux":0.78},{"run":"ca45","year":2074.4,"flux":0.77},{"run":"ca45","year":2077.8,"flux":0.78},{"run":"ca45","year":2081.2,"flux":0.79},{"run":"ca45","year":2083.7,"flux":0.82},{"run":"ca45","year":2086.3,"flux":0.79},{"run":"ca45","year":2088.8,"flux":0.75},{"run":"ca45","year":2091.4,"flux":0.71},{"run":"ca45","year":2093.9,"flux":0.7},{"run":"ca45","year":2096.4,"flux":0.74},{"run":"ca45","year":2098.1,"flux":0.7},{"run":"ca45","year":2100,"flux":0.67},
      {"run":"ca85","year":2010,"flux":1.0},{"run":"ca85","year":2012.5,"flux":0.98},{"run":"ca85","year":2015,"flux":1.0},{"run":"ca85","year":2018.5,"flux":1.1},{"run":"ca85","year":2021,"flux":1.03},{"run":"ca85","year":2024.4,"flux":0.98},{"run":"ca85","year":2027,"flux":0.87},{"run":"ca85","year":2028.6,"flux":0.83},{"run":"ca85","year":2031,"flux":0.86},{"run":"ca85","year":2033.7,"flux":0.9},{"run":"ca85","year":2036.3,"flux":0.82},{"run":"ca85","year":2038.8,"flux":0.83},{"run":"ca85","year":2041.4,"flux":0.86},{"run":"ca85","year":2043,"flux":0.83},{"run":"ca85","year":2044.7,"flux":0.79},{"run":"ca85","year":2047.3,"flux":0.75},{"run":"ca85","year":2050,"flux":0.77},{"run":"ca85","year":2052.4,"flux":0.81},{"run":"ca85","year":2055.8,"flux":0.85},{"run":"ca85","year":2058.3,"flux":0.9},{"run":"ca85","year":2060.8,"flux":0.91},{"run":"ca85","year":2063.4,"flux":0.97},{"run":"ca85","year":2065.9,"flux":1.03},{"run":"ca85","year":2068.5,"flux":1.1},{"run":"ca85","year":2071.9,"flux":1.1},{"run":"ca85","year":2075.3,"flux":1.09},{"run":"ca85","year":2078.6,"flux":1.09},{"run":"ca85","year":2081.2,"flux":1.05},{"run":"ca85","year":2083.7,"flux":1.13},{"run":"ca85","year":2087.1,"flux":1.2},{"run":"ca85","year":2090.5,"flux":1.24},{"run":"ca85","year":2093.1,"flux":1.27},{"run":"ca85","year":2095.3,"flux":1.3},{"run":"ca85","year":2097,"flux":1.34},{"run":"ca85","year":2098.6,"flux":1.42},{"run":"ca85","year":2100,"flux":1.52}
    ],
    "locV": [
      {"run":"cn45","year":2010,"flux":1.0},{"run":"cn45","year":2012,"flux":1.02},{"run":"cn45","year":2015,"flux":1.05},{"run":"cn45","year":2018,"flux":1.06},{"run":"cn45","year":2020,"flux":1.05},{"run":"cn45","year":2022,"flux":1.04},{"run":"cn45","year":2025,"flux":1.0},{"run":"cn45","year":2027,"flux":0.96},{"run":"cn45","year":2029,"flux":0.92},{"run":"cn45","year":2032,"flux":0.85},{"run":"cn45","year":2035,"flux":0.8},{"run":"cn45","year":2037,"flux":0.8},{"run":"cn45","year":2040,"flux":0.79},{"run":"cn45","year":2042,"flux":0.78},{"run":"cn45","year":2044,"flux":0.82},{"run":"cn45","year":2046,"flux":0.85},{"run":"cn45","year":2048,"flux":0.82},{"run":"cn45","year":2049,"flux":0.75},{"run":"cn45","year":2052,"flux":0.72},{"run":"cn45","year":2055,"flux":0.71},{"run":"cn45","year":2057,"flux":0.73},{"run":"cn45","year":2059,"flux":0.74},{"run":"cn45","year":2061,"flux":0.79},{"run":"cn45","year":2063,"flux":0.87},{"run":"cn45","year":2065,"flux":0.86},{"run":"cn45","year":2067,"flux":0.83},{"run":"cn45","year":2069,"flux":0.8},{"run":"cn45","year":2071,"flux":0.79},{"run":"cn45","year":2073,"flux":0.8},{"run":"cn45","year":2075,"flux":0.85},{"run":"cn45","year":2077,"flux":0.86},{"run":"cn45","year":2080,"flux":0.95},{"run":"cn45","year":2083,"flux":0.89},{"run":"cn45","year":2085,"flux":0.91},{"run":"cn45","year":2088,"flux":0.87},{"run":"cn45","year":2090,"flux":0.85},{"run":"cn45","year":2091,"flux":0.8},{"run":"cn45","year":2093,"flux":0.75},{"run":"cn45","year":2096,"flux":0.75},{"run":"cn45","year":2098,"flux":0.75},{"run":"cn45","year":2100,"flux":0.76},
      {"run":"cn85","year":2010,"flux":1.0},{"run":"cn85","year":2012,"flux":1.06},{"run":"cn85","year":2015,"flux":1.13},{"run":"cn85","year":2018,"flux":1.21},{"run":"cn85","year":2020,"flux":1.2},{"run":"cn85","year":2022,"flux":1.22},{"run":"cn85","year":2024,"flux":1.25},{"run":"cn85","year":2026,"flux":1.2},{"run":"cn85","year":2028,"flux":1.18},{"run":"cn85","year":2030,"flux":1.15},{"run":"cn85","year":2032,"flux":1.15},{"run":"cn85","year":2034,"flux":1.13},{"run":"cn85","year":2036,"flux":1.13},{"run":"cn85","year":2038,"flux":1.18},{"run":"cn85","year":2040.5,"flux":1.25},{"run":"cn85","year":2044,"flux":1.28},{"run":"cn85","year":2047,"flux":1.28},{"run":"cn85","year":2050.7,"flux":1.19},{"run":"cn85","year":2054,"flux":1.19},{"run":"cn85","year":2057,"flux":1.25},{"run":"cn85","year":2061,"flux":1.19},{"run":"cn85","year":2064,"flux":1.11},{"run":"cn85","year":2067,"flux":1.12},{"run":"cn85","year":2070,"flux":1.08},{"run":"cn85","year":2071,"flux":1.05},{"run":"cn85","year":2072.7,"flux":1.19},{"run":"cn85","year":2074,"flux":1.12},{"run":"cn85","year":2077,"flux":1.03},{"run":"cn85","year":2079.5,"flux":0.99},{"run":"cn85","year":2082,"flux":1.02},{"run":"cn85","year":2085,"flux":1.0},{"run":"cn85","year":2088,"flux":1.04},{"run":"cn85","year":2091,"flux":1.05},{"run":"cn85","year":2094,"flux":1.03},{"run":"cn85","year":2097,"flux":1.04},{"run":"cn85","year":2099,"flux":1.08},{"run":"cn85","year":2100,"flux":1.11},
      {"run":"mi45","year":2010,"flux":1.0},{"run":"mi45","year":2012,"flux":1.08},{"run":"mi45","year":2013.4,"flux":1.13},{"run":"mi45","year":2015,"flux":1.12},{"run":"mi45","year":2017.6,"flux":1.11},{"run":"mi45","year":2020,"flux":1.11},{"run":"mi45","year":2022.7,"flux":1.13},{"run":"mi45","year":2025,"flux":1.08},{"run":"mi45","year":2027.8,"flux":1.21},{"run":"mi45","year":2030.3,"flux":1.34},{"run":"mi45","year":2033,"flux":1.35},{"run":"mi45","year":2035.4,"flux":1.38},{"run":"mi45","year":2038,"flux":1.32},{"run":"mi45","year":2040.5,"flux":1.39},{"run":"mi45","year":2043,"flux":1.4},{"run":"mi45","year":2045.6,"flux":1.35},{"run":"mi45","year":2048,"flux":1.32},{"run":"mi45","year":2050.7,"flux":1.21},{"run":"mi45","year":2053.2,"flux":1.17},{"run":"mi45","year":2055.8,"flux":1.16},{"run":"mi45","year":2058.3,"flux":1.05},{"run":"mi45","year":2060.8,"flux":0.95},{"run":"mi45","year":2062.5,"flux":0.99},{"run":"mi45","year":2065.1,"flux":1.03},{"run":"mi45","year":2067.6,"flux":0.99},{"run":"mi45","year":2069.3,"flux":0.92},{"run":"mi45","year":2071.9,"flux":0.89},{"run":"mi45","year":2074.4,"flux":0.96},{"run":"mi45","year":2077,"flux":0.97},{"run":"mi45","year":2079.5,"flux":1.08},{"run":"mi45","year":2082,"flux":1.12},{"run":"mi45","year":2084.6,"flux":1.16},{"run":"mi45","year":2087,"flux":1.16},{"run":"mi45","year":2089.7,"flux":1.2},{"run":"mi45","year":2092,"flux":1.22},{"run":"mi45","year":2094.7,"flux":1.21},{"run":"mi45","year":2097.4,"flux":1.19},{"run":"mi45","year":2100,"flux":1.2},
      {"run":"mi85","year":2010,"flux":1.0},{"run":"mi85","year":2013.4,"flux":1.07},{"run":"mi85","year":2016.8,"flux":1.12},{"run":"mi85","year":2019,"flux":1.08},{"run":"mi85","year":2021.9,"flux":1.05},{"run":"mi85","year":2024.4,"flux":1.04},{"run":"mi85","year":2027,"flux":1.11},{"run":"mi85","year":2030,"flux":1.13},{"run":"mi85","year":2032,"flux":1.17},{"run":"mi85","year":2035.4,"flux":1.27},{"run":"mi85","year":2038,"flux":1.2},{"run":"mi85","year":2039.7,"flux":1.29},{"run":"mi85","year":2042,"flux":1.35},{"run":"mi85","year":2044.7,"flux":1.39},{"run":"mi85","year":2047,"flux":1.36},{"run":"mi85","year":2049.8,"flux":1.34},{"run":"mi85","year":2053,"flux":1.35},{"run":"mi85","year":2055.8,"flux":1.32},{"run":"mi85","year":2058.3,"flux":1.28},{"run":"mi85","year":2060.8,"flux":1.24},{"run":"mi85","year":2062.5,"flux":1.2},{"run":"mi85","year":2065,"flux":1.21},{"run":"mi85","year":2066.8,"flux":1.16},{"run":"mi85","year":2069.3,"flux":1.11},{"run":"mi85","year":2071,"flux":1.03},{"run":"mi85","year":2072.7,"flux":0.99},{"run":"mi85","year":2075,"flux":1.03},{"run":"mi85","year":2077.8,"flux":1.05},{"run":"mi85","year":2080.3,"flux":1.08},{"run":"mi85","year":2083,"flux":1.14},{"run":"mi85","year":2086.3,"flux":1.21},{"run":"mi85","year":2089.7,"flux":1.25},{"run":"mi85","year":2093,"flux":1.26},{"run":"mi85","year":2095.6,"flux":1.29},{"run":"mi85","year":2098,"flux":1.3},{"run":"mi85","year":2100,"flux":1.32},
      {"run":"ca45","year":2010,"flux":1.03},{"run":"ca45","year":2011.7,"flux":1.16},{"run":"ca45","year":2015,"flux":1.21},{"run":"ca45","year":2018.5,"flux":1.29},{"run":"ca45","year":2021,"flux":1.25},{"run":"ca45","year":2023.6,"flux":1.19},{"run":"ca45","year":2025.3,"flux":1.13},{"run":"ca45","year":2027,"flux":1.19},{"run":"ca45","year":2030,"flux":1.19},{"run":"ca45","year":2032,"flux":1.19},{"run":"ca45","year":2034.6,"flux":1.17},{"run":"ca45","year":2037.1,"flux":1.17},{"run":"ca45","year":2039.7,"flux":1.23},{"run":"ca45","year":2042.2,"flux":1.11},{"run":"ca45","year":2044.7,"flux":1.07},{"run":"ca45","year":2047.3,"flux":1.04},{"run":"ca45","year":2050,"flux":1.06},{"run":"ca45","year":2051.5,"flux":1.16},{"run":"ca45","year":2054,"flux":1.15},{"run":"ca45","year":2056.6,"flux":1.16},{"run":"ca45","year":2059.2,"flux":1.24},{"run":"ca45","year":2061.7,"flux":1.23},{"run":"ca45","year":2064.2,"flux":1.2},{"run":"ca45","year":2067.6,"flux":1.25},{"run":"ca45","year":2070.2,"flux":1.21},{"run":"ca45","year":2072.7,"flux":1.19},{"run":"ca45","year":2074.4,"flux":1.29},{"run":"ca45","year":2077,"flux":1.33},{"run":"ca45","year":2078.6,"flux":1.35},{"run":"ca45","year":2080.3,"flux":1.35},{"run":"ca45","year":2082,"flux":1.28},{"run":"ca45","year":2084.6,"flux":1.31},{"run":"ca45","year":2088,"flux":1.27},{"run":"ca45","year":2089.7,"flux":1.35},{"run":"ca45","year":2092.2,"flux":1.43},{"run":"ca45","year":2093.5,"flux":1.47},{"run":"ca45","year":2095,"flux":1.38},{"run":"ca45","year":2098,"flux":1.37},{"run":"ca45","year":2100,"flux":1.42},
      {"run":"ca85","year":2010,"flux":1.0},{"run":"ca85","year":2014,"flux":1.13},{"run":"ca85","year":2016.8,"flux":1.16},{"run":"ca85","year":2020,"flux":1.15},{"run":"ca85","year":2022.7,"flux":1.08},{"run":"ca85","year":2025,"flux":1.03},{"run":"ca85","year":2028,"flux":1.07},{"run":"ca85","year":2030.3,"flux":1.17},{"run":"ca85","year":2033,"flux":1.21},{"run":"ca85","year":2036,"flux":1.19},{"run":"ca85","year":2039.7,"flux":1.21},{"run":"ca85","year":2043,"flux":1.24},{"run":"ca85","year":2046.4,"flux":1.26},{"run":"ca85","year":2049,"flux":1.35},{"run":"ca85","year":2051.5,"flux":1.44},{"run":"ca85","year":2054,"flux":1.47},{"run":"ca85","year":2056.6,"flux":1.54},{"run":"ca85","year":2059.2,"flux":1.56},{"run":"ca85","year":2061.7,"flux":1.51},{"run":"ca85","year":2063.4,"flux":1.44},{"run":"ca85","year":2065.9,"flux":1.48},{"run":"ca85","year":2068.5,"flux":1.52},{"run":"ca85","year":2071,"flux":1.48},{"run":"ca85","year":2073.6,"flux":1.46},{"run":"ca85","year":2076.1,"flux":1.43},{"run":"ca85","year":2078.6,"flux":1.38},{"run":"ca85","year":2081.2,"flux":1.29},{"run":"ca85","year":2083.7,"flux":1.32},{"run":"ca85","year":2086.3,"flux":1.34},{"run":"ca85","year":2088,"flux":1.44},{"run":"ca85","year":2089.7,"flux":1.54},{"run":"ca85","year":2092.2,"flux":1.56},{"run":"ca85","year":2093.9,"flux":1.6},{"run":"ca85","year":2095.6,"flux":1.55},{"run":"ca85","year":2097.3,"flux":1.54},{"run":"ca85","year":2100,"flux":1.67}
    ],
    "locVI": [
      {"run":"cn45","year":2010,"flux":0.99},{"run":"cn45","year":2013,"flux":1.07},{"run":"cn45","year":2016.4,"flux":1.07},{"run":"cn45","year":2018,"flux":1.04},{"run":"cn45","year":2019.8,"flux":0.95},{"run":"cn45","year":2022.4,"flux":0.94},{"run":"cn45","year":2024.5,"flux":0.86},{"run":"cn45","year":2026.6,"flux":0.85},{"run":"cn45","year":2029,"flux":0.85},{"run":"cn45","year":2031.7,"flux":0.79},{"run":"cn45","year":2034.2,"flux":0.71},{"run":"cn45","year":2036.8,"flux":0.68},{"run":"cn45","year":2038.9,"flux":0.61},{"run":"cn45","year":2040.2,"flux":0.67},{"run":"cn45","year":2043.6,"flux":0.63},{"run":"cn45","year":2046,"flux":0.6},{"run":"cn45","year":2048.6,"flux":0.61},{"run":"cn45","year":2050.3,"flux":0.59},{"run":"cn45","year":2052,"flux":0.59},{"run":"cn45","year":2053.7,"flux":0.63},{"run":"cn45","year":2057,"flux":0.64},{"run":"cn45","year":2059.7,"flux":0.64},{"run":"cn45","year":2062.2,"flux":0.71},{"run":"cn45","year":2064.7,"flux":0.75},{"run":"cn45","year":2067.3,"flux":0.76},{"run":"cn45","year":2069.8,"flux":0.73},{"run":"cn45","year":2071.5,"flux":0.69},{"run":"cn45","year":2074,"flux":0.75},{"run":"cn45","year":2076.6,"flux":0.76},{"run":"cn45","year":2079.2,"flux":0.79},{"run":"cn45","year":2081.7,"flux":0.73},{"run":"cn45","year":2084.2,"flux":0.71},{"run":"cn45","year":2086.8,"flux":0.64},{"run":"cn45","year":2089.3,"flux":0.64},{"run":"cn45","year":2091.9,"flux":0.59},{"run":"cn45","year":2094.4,"flux":0.56},{"run":"cn45","year":2096.9,"flux":0.6},{"run":"cn45","year":2098.6,"flux":0.61},{"run":"cn45","year":2100,"flux":0.64},
      {"run":"cn85","year":2010,"flux":1.0},{"run":"cn85","year":2013,"flux":1.07},{"run":"cn85","year":2016.4,"flux":1.04},{"run":"cn85","year":2018,"flux":1.03},{"run":"cn85","year":2020,"flux":0.97},{"run":"cn85","year":2022,"flux":0.93},{"run":"cn85","year":2024,"flux":0.9},{"run":"cn85","year":2027,"flux":0.86},{"run":"cn85","year":2030,"flux":0.82},{"run":"cn85","year":2032,"flux":0.78},{"run":"cn85","year":2035,"flux":0.72},{"run":"cn85","year":2037.6,"flux":0.76},{"run":"cn85","year":2040.2,"flux":0.77},{"run":"cn85","year":2042.7,"flux":0.71},{"run":"cn85","year":2045.2,"flux":0.73},{"run":"cn85","year":2048.6,"flux":0.73},{"run":"cn85","year":2052,"flux":0.79},{"run":"cn85","year":2055.4,"flux":0.81},{"run":"cn85","year":2058,"flux":0.79},{"run":"cn85","year":2060.5,"flux":0.76},{"run":"cn85","year":2063,"flux":0.83},{"run":"cn85","year":2065.6,"flux":0.82},{"run":"cn85","year":2068,"flux":0.77},{"run":"cn85","year":2070.7,"flux":0.73},{"run":"cn85","year":2073.2,"flux":0.77},{"run":"cn85","year":2075.8,"flux":0.72},{"run":"cn85","year":2078.3,"flux":0.81},{"run":"cn85","year":2080.8,"flux":0.76},{"run":"cn85","year":2083.4,"flux":0.77},{"run":"cn85","year":2086,"flux":0.81},{"run":"cn85","year":2088.5,"flux":0.79},{"run":"cn85","year":2091,"flux":0.84},{"run":"cn85","year":2093.6,"flux":0.83},{"run":"cn85","year":2096,"flux":0.81},{"run":"cn85","year":2098.6,"flux":0.85},{"run":"cn85","year":2100,"flux":0.83},
      {"run":"mi45","year":2010,"flux":1.0},{"run":"mi45","year":2015,"flux":1.12},{"run":"mi45","year":2018,"flux":1.15},{"run":"mi45","year":2021.5,"flux":1.0},{"run":"mi45","year":2023,"flux":1.01},{"run":"mi45","year":2025,"flux":1.19},{"run":"mi45","year":2026,"flux":1.35},{"run":"mi45","year":2028,"flux":1.38},{"run":"mi45","year":2030,"flux":1.39},{"run":"mi45","year":2032,"flux":1.36},{"run":"mi45","year":2033,"flux":1.43},{"run":"mi45","year":2035,"flux":1.47},{"run":"mi45","year":2037,"flux":1.48},{"run":"mi45","year":2038.5,"flux":1.52},{"run":"mi45","year":2040,"flux":1.54},{"run":"mi45","year":2042,"flux":1.5},{"run":"mi45","year":2043.6,"flux":1.45},{"run":"mi45","year":2045,"flux":1.48},{"run":"mi45","year":2047,"flux":1.51},{"run":"mi45","year":2049,"flux":1.49},{"run":"mi45","year":2051,"flux":1.45},{"run":"mi45","year":2053,"flux":1.41},{"run":"mi45","year":2054.6,"flux":1.32},{"run":"mi45","year":2056.3,"flux":1.2},{"run":"mi45","year":2058,"flux":1.15},{"run":"mi45","year":2060,"flux":1.08},{"run":"mi45","year":2062,"flux":1.22},{"run":"mi45","year":2064,"flux":1.19},{"run":"mi45","year":2065.6,"flux":1.16},{"run":"mi45","year":2068,"flux":1.08},{"run":"mi45","year":2070.7,"flux":1.07},{"run":"mi45","year":2073,"flux":1.07},{"run":"mi45","year":2075.8,"flux":1.06},{"run":"mi45","year":2077.5,"flux":1.04},{"run":"mi45","year":2079,"flux":1.0},{"run":"mi45","year":2081.7,"flux":1.03},{"run":"mi45","year":2084,"flux":1.03},{"run":"mi45","year":2086.8,"flux":1.05},{"run":"mi45","year":2088.5,"flux":1.1},{"run":"mi45","year":2091,"flux":1.06},{"run":"mi45","year":2093.6,"flux":1.0},{"run":"mi45","year":2096,"flux":0.98},{"run":"mi45","year":2098.6,"flux":0.95},{"run":"mi45","year":2100,"flux":0.95},
      {"run":"mi85","year":2010,"flux":0.99},{"run":"mi85","year":2015,"flux":1.1},{"run":"mi85","year":2018,"flux":1.14},{"run":"mi85","year":2021.5,"flux":1.02},{"run":"mi85","year":2025,"flux":1.14},{"run":"mi85","year":2026.6,"flux":1.19},{"run":"mi85","year":2029,"flux":1.23},{"run":"mi85","year":2031.7,"flux":1.3},{"run":"mi85","year":2034,"flux":1.39},{"run":"mi85","year":2036,"flux":1.36},{"run":"mi85","year":2038.5,"flux":1.4},{"run":"mi85","year":2041,"flux":1.43},{"run":"mi85","year":2044,"flux":1.43},{"run":"mi85","year":2047,"flux":1.45},{"run":"mi85","year":2050,"flux":1.45},{"run":"mi85","year":2053.7,"flux":1.43},{"run":"mi85","year":2055,"flux":1.4},{"run":"mi85","year":2057,"flux":1.3},{"run":"mi85","year":2059.7,"flux":1.3},{"run":"mi85","year":2062,"flux":1.18},{"run":"mi85","year":2064.7,"flux":1.18},{"run":"mi85","year":2067.3,"flux":1.22},{"run":"mi85","year":2069.8,"flux":1.19},{"run":"mi85","year":2072,"flux":1.2},{"run":"mi85","year":2075.8,"flux":1.23},{"run":"mi85","year":2080,"flux":1.27},{"run":"mi85","year":2082.5,"flux":1.28},{"run":"mi85","year":2085,"flux":1.22},{"run":"mi85","year":2088.5,"flux":1.22},{"run":"mi85","year":2091,"flux":1.21},{"run":"mi85","year":2094.4,"flux":1.23},{"run":"mi85","year":2097,"flux":1.26},{"run":"mi85","year":2100,"flux":1.35},
      {"run":"ca45","year":2010,"flux":1.02},{"run":"ca45","year":2013,"flux":1.08},{"run":"ca45","year":2015.6,"flux":1.14},{"run":"ca45","year":2019,"flux":1.15},{"run":"ca45","year":2021.5,"flux":1.12},{"run":"ca45","year":2024,"flux":1.07},{"run":"ca45","year":2026.6,"flux":1.1},{"run":"ca45","year":2029,"flux":1.11},{"run":"ca45","year":2031.7,"flux":1.07},{"run":"ca45","year":2035,"flux":1.07},{"run":"ca45","year":2037.6,"flux":1.06},{"run":"ca45","year":2039,"flux":0.92},{"run":"ca45","year":2041,"flux":0.87},{"run":"ca45","year":2043.6,"flux":0.86},{"run":"ca45","year":2046,"flux":0.81},{"run":"ca45","year":2048.6,"flux":0.79},{"run":"ca45","year":2050.3,"flux":0.75},{"run":"ca45","year":2052.8,"flux":0.79},{"run":"ca45","year":2055.4,"flux":0.79},{"run":"ca45","year":2058,"flux":0.76},{"run":"ca45","year":2058.8,"flux":0.9},{"run":"ca45","year":2060.5,"flux":0.92},{"run":"ca45","year":2062,"flux":0.98},{"run":"ca45","year":2064.7,"flux":1.0},{"run":"ca45","year":2067.3,"flux":1.0},{"run":"ca45","year":2069.8,"flux":0.95},{"run":"ca45","year":2072.3,"flux":0.94},{"run":"ca45","year":2074.9,"flux":1.0},{"run":"ca45","year":2077.5,"flux":1.0},{"run":"ca45","year":2080,"flux":1.06},{"run":"ca45","year":2083.4,"flux":1.06},{"run":"ca45","year":2086.8,"flux":1.04},{"run":"ca45","year":2088.5,"flux":1.07},{"run":"ca45","year":2089.7,"flux":0.94},{"run":"ca45","year":2091,"flux":0.95},{"run":"ca45","year":2093.6,"flux":1.0},{"run":"ca45","year":2096,"flux":0.98},{"run":"ca45","year":2098.6,"flux":0.98},{"run":"ca45","year":2100,"flux":0.95},
      {"run":"ca85","year":2010,"flux":1.0},{"run":"ca85","year":2012,"flux":1.07},{"run":"ca85","year":2015.6,"flux":1.11},{"run":"ca85","year":2018,"flux":1.14},{"run":"ca85","year":2021.5,"flux":1.19},{"run":"ca85","year":2024,"flux":1.1},{"run":"ca85","year":2026.6,"flux":1.08},{"run":"ca85","year":2029,"flux":1.16},{"run":"ca85","year":2032,"flux":1.15},{"run":"ca85","year":2035,"flux":1.14},{"run":"ca85","year":2037.6,"flux":1.11},{"run":"ca85","year":2039.3,"flux":1.19},{"run":"ca85","year":2042,"flux":1.24},{"run":"ca85","year":2044,"flux":1.22},{"run":"ca85","year":2046,"flux":1.22},{"run":"ca85","year":2048.6,"flux":1.26},{"run":"ca85","year":2051,"flux":1.27},{"run":"ca85","year":2053.7,"flux":1.31},{"run":"ca85","year":2057,"flux":1.35},{"run":"ca85","year":2059.7,"flux":1.4},{"run":"ca85","year":2062,"flux":1.46},{"run":"ca85","year":2064.7,"flux":1.49},{"run":"ca85","year":2067.3,"flux":1.57},{"run":"ca85","year":2069,"flux":1.62},{"run":"ca85","year":2070.7,"flux":1.51},{"run":"ca85","year":2073,"flux":1.53},{"run":"ca85","year":2076.6,"flux":1.47},{"run":"ca85","year":2080,"flux":1.4},{"run":"ca85","year":2083.4,"flux":1.42},{"run":"ca85","year":2085,"flux":1.51},{"run":"ca85","year":2087.6,"flux":1.59},{"run":"ca85","year":2090,"flux":1.63},{"run":"ca85","year":2092.7,"flux":1.66},{"run":"ca85","year":2095.3,"flux":1.61},{"run":"ca85","year":2097.8,"flux":1.69},{"run":"ca85","year":2100,"flux":1.85}
    ]
  },
  "columns": 2,
  "spacing": {"row": 56.6, "column": 70.7},
  "bounds": "flush",
  "resolve": {"scale": {"color": "shared", "strokeDash": "shared"}, "legend": {"color": "shared", "strokeDash": "shared"}},
  "concat": [
    {
      "title": "(a) Location I", "width": 354, "height": 278,
      "layer": [
        {
          "data": {"name": "locI"},
          "mark": {"type": "line", "strokeWidth": 2.5, "clip": true},
          "encoding": {
            "x": {"field": "year", "type": "quantitative", "scale": {"domain": [2010, 2100], "nice": false, "zero": false}, "axis": {"title": null, "values": [2020, 2040, 2060, 2080, 2100], "format": "d"}},
            "y": {"field": "flux", "type": "quantitative", "scale": {"domain": [0.5, 2.73], "nice": false, "zero": false}, "axis": {"title": null, "values": [0.5, 0.75, 1, 1.25, 1.5, 1.75, 2, 2.25, 2.5], "format": ".2f"}},
            "color": {"field": "run", "type": "nominal", "title": null, "scale": {"domain": ["cn45", "mi45", "ca45", "cn85", "mi85", "ca85"], "range": ["#00bfbf", "#000000", "#bf00bf", "#00bfbf", "#000000", "#bf00bf"]}, "legend": {"labelExpr": "{'cn45':'RCP 4.5 CNRM-CM5','mi45':'RCP 4.5 MIROC5','ca45':'RCP 4.5 CanESM2','cn85':'RCP 8.5 CNRM-CM5','mi85':'RCP 8.5 MIROC5','ca85':'RCP 8.5 CanESM2'}[datum.label]"}},
            "strokeDash": {"field": "run", "type": "nominal", "title": null, "scale": {"domain": ["cn45", "mi45", "ca45", "cn85", "mi85", "ca85"], "range": [[1, 0], [1, 0], [1, 0], [9, 4.5], [9, 4.5], [9, 4.5]]}, "legend": {"labelExpr": "{'cn45':'RCP 4.5 CNRM-CM5','mi45':'RCP 4.5 MIROC5','ca45':'RCP 4.5 CanESM2','cn85':'RCP 8.5 CNRM-CM5','mi85':'RCP 8.5 MIROC5','ca85':'RCP 8.5 CanESM2'}[datum.label]"}}
          }
        },
        {"data": {"values": [{"flux": 1}]}, "mark": {"type": "rule", "color": "#0000ff", "strokeWidth": 2.8}, "encoding": {"y": {"field": "flux", "type": "quantitative"}}}
      ]
    },
    {
      "title": "(b) Location II", "width": 354, "height": 278,
      "layer": [
        {
          "data": {"name": "locII"},
          "mark": {"type": "line", "strokeWidth": 2.5, "clip": true},
          "encoding": {
            "x": {"field": "year", "type": "quantitative", "scale": {"domain": [2010, 2100], "nice": false, "zero": false}, "axis": {"title": null, "values": [2020, 2040, 2060, 2080, 2100], "format": "d"}},
            "y": {"field": "flux", "type": "quantitative", "scale": {"domain": [0.5, 2.73], "nice": false, "zero": false}, "axis": {"title": null, "values": [0.5, 0.75, 1, 1.25, 1.5, 1.75, 2, 2.25, 2.5], "format": ".2f"}},
            "color": {"field": "run", "type": "nominal", "title": null, "scale": {"domain": ["cn45", "mi45", "ca45", "cn85", "mi85", "ca85"], "range": ["#00bfbf", "#000000", "#bf00bf", "#00bfbf", "#000000", "#bf00bf"]}, "legend": {"labelExpr": "{'cn45':'RCP 4.5 CNRM-CM5','mi45':'RCP 4.5 MIROC5','ca45':'RCP 4.5 CanESM2','cn85':'RCP 8.5 CNRM-CM5','mi85':'RCP 8.5 MIROC5','ca85':'RCP 8.5 CanESM2'}[datum.label]"}},
            "strokeDash": {"field": "run", "type": "nominal", "title": null, "scale": {"domain": ["cn45", "mi45", "ca45", "cn85", "mi85", "ca85"], "range": [[1, 0], [1, 0], [1, 0], [9, 4.5], [9, 4.5], [9, 4.5]]}, "legend": {"labelExpr": "{'cn45':'RCP 4.5 CNRM-CM5','mi45':'RCP 4.5 MIROC5','ca45':'RCP 4.5 CanESM2','cn85':'RCP 8.5 CNRM-CM5','mi85':'RCP 8.5 MIROC5','ca85':'RCP 8.5 CanESM2'}[datum.label]"}}
          }
        },
        {"data": {"values": [{"flux": 1}]}, "mark": {"type": "rule", "color": "#0000ff", "strokeWidth": 2.8}, "encoding": {"y": {"field": "flux", "type": "quantitative"}}}
      ]
    },
    {
      "title": "(c) Location III", "width": 354, "height": 278,
      "layer": [
        {
          "data": {"name": "locIII"},
          "mark": {"type": "line", "strokeWidth": 2.5, "clip": true},
          "encoding": {
            "x": {"field": "year", "type": "quantitative", "scale": {"domain": [2010, 2100], "nice": false, "zero": false}, "axis": {"title": null, "values": [2020, 2040, 2060, 2080, 2100], "format": "d"}},
            "y": {"field": "flux", "type": "quantitative", "scale": {"domain": [0.5, 2.73], "nice": false, "zero": false}, "axis": {"title": "CO2 flux relative to 1981-2010", "values": [0.5, 0.75, 1, 1.25, 1.5, 1.75, 2, 2.25, 2.5], "format": ".2f"}},
            "color": {"field": "run", "type": "nominal", "title": null, "scale": {"domain": ["cn45", "mi45", "ca45", "cn85", "mi85", "ca85"], "range": ["#00bfbf", "#000000", "#bf00bf", "#00bfbf", "#000000", "#bf00bf"]}, "legend": {"labelExpr": "{'cn45':'RCP 4.5 CNRM-CM5','mi45':'RCP 4.5 MIROC5','ca45':'RCP 4.5 CanESM2','cn85':'RCP 8.5 CNRM-CM5','mi85':'RCP 8.5 MIROC5','ca85':'RCP 8.5 CanESM2'}[datum.label]"}},
            "strokeDash": {"field": "run", "type": "nominal", "title": null, "scale": {"domain": ["cn45", "mi45", "ca45", "cn85", "mi85", "ca85"], "range": [[1, 0], [1, 0], [1, 0], [9, 4.5], [9, 4.5], [9, 4.5]]}, "legend": {"labelExpr": "{'cn45':'RCP 4.5 CNRM-CM5','mi45':'RCP 4.5 MIROC5','ca45':'RCP 4.5 CanESM2','cn85':'RCP 8.5 CNRM-CM5','mi85':'RCP 8.5 MIROC5','ca85':'RCP 8.5 CanESM2'}[datum.label]"}}
          }
        },
        {"data": {"values": [{"flux": 1}]}, "mark": {"type": "rule", "color": "#0000ff", "strokeWidth": 2.8}, "encoding": {"y": {"field": "flux", "type": "quantitative"}}}
      ]
    },
    {
      "title": "(d) Location IV", "width": 354, "height": 278,
      "layer": [
        {
          "data": {"name": "locIV"},
          "mark": {"type": "line", "strokeWidth": 2.5, "clip": true},
          "encoding": {
            "x": {"field": "year", "type": "quantitative", "scale": {"domain": [2010, 2100], "nice": false, "zero": false}, "axis": {"title": null, "values": [2020, 2040, 2060, 2080, 2100], "format": "d"}},
            "y": {"field": "flux", "type": "quantitative", "scale": {"domain": [0.5, 2.73], "nice": false, "zero": false}, "axis": {"title": null, "values": [0.5, 0.75, 1, 1.25, 1.5, 1.75, 2, 2.25, 2.5], "format": ".2f"}},
            "color": {"field": "run", "type": "nominal", "title": null, "scale": {"domain": ["cn45", "mi45", "ca45", "cn85", "mi85", "ca85"], "range": ["#00bfbf", "#000000", "#bf00bf", "#00bfbf", "#000000", "#bf00bf"]}, "legend": {"labelExpr": "{'cn45':'RCP 4.5 CNRM-CM5','mi45':'RCP 4.5 MIROC5','ca45':'RCP 4.5 CanESM2','cn85':'RCP 8.5 CNRM-CM5','mi85':'RCP 8.5 MIROC5','ca85':'RCP 8.5 CanESM2'}[datum.label]"}},
            "strokeDash": {"field": "run", "type": "nominal", "title": null, "scale": {"domain": ["cn45", "mi45", "ca45", "cn85", "mi85", "ca85"], "range": [[1, 0], [1, 0], [1, 0], [9, 4.5], [9, 4.5], [9, 4.5]]}, "legend": {"labelExpr": "{'cn45':'RCP 4.5 CNRM-CM5','mi45':'RCP 4.5 MIROC5','ca45':'RCP 4.5 CanESM2','cn85':'RCP 8.5 CNRM-CM5','mi85':'RCP 8.5 MIROC5','ca85':'RCP 8.5 CanESM2'}[datum.label]"}}
          }
        },
        {"data": {"values": [{"flux": 1}]}, "mark": {"type": "rule", "color": "#0000ff", "strokeWidth": 2.8}, "encoding": {"y": {"field": "flux", "type": "quantitative"}}}
      ]
    },
    {
      "title": "(e) Location V", "width": 354, "height": 278,
      "layer": [
        {
          "data": {"name": "locV"},
          "mark": {"type": "line", "strokeWidth": 2.5, "clip": true},
          "encoding": {
            "x": {"field": "year", "type": "quantitative", "scale": {"domain": [2010, 2100], "nice": false, "zero": false}, "axis": {"title": null, "values": [2020, 2040, 2060, 2080, 2100], "format": "d"}},
            "y": {"field": "flux", "type": "quantitative", "scale": {"domain": [0.5, 2.73], "nice": false, "zero": false}, "axis": {"title": null, "values": [0.5, 0.75, 1, 1.25, 1.5, 1.75, 2, 2.25, 2.5], "format": ".2f"}},
            "color": {"field": "run", "type": "nominal", "title": null, "scale": {"domain": ["cn45", "mi45", "ca45", "cn85", "mi85", "ca85"], "range": ["#00bfbf", "#000000", "#bf00bf", "#00bfbf", "#000000", "#bf00bf"]}, "legend": {"labelExpr": "{'cn45':'RCP 4.5 CNRM-CM5','mi45':'RCP 4.5 MIROC5','ca45':'RCP 4.5 CanESM2','cn85':'RCP 8.5 CNRM-CM5','mi85':'RCP 8.5 MIROC5','ca85':'RCP 8.5 CanESM2'}[datum.label]"}},
            "strokeDash": {"field": "run", "type": "nominal", "title": null, "scale": {"domain": ["cn45", "mi45", "ca45", "cn85", "mi85", "ca85"], "range": [[1, 0], [1, 0], [1, 0], [9, 4.5], [9, 4.5], [9, 4.5]]}, "legend": {"labelExpr": "{'cn45':'RCP 4.5 CNRM-CM5','mi45':'RCP 4.5 MIROC5','ca45':'RCP 4.5 CanESM2','cn85':'RCP 8.5 CNRM-CM5','mi85':'RCP 8.5 MIROC5','ca85':'RCP 8.5 CanESM2'}[datum.label]"}}
          }
        },
        {"data": {"values": [{"flux": 1}]}, "mark": {"type": "rule", "color": "#0000ff", "strokeWidth": 2.8}, "encoding": {"y": {"field": "flux", "type": "quantitative"}}}
      ]
    },
    {
      "title": "(f) Location VI", "width": 354, "height": 278,
      "layer": [
        {
          "data": {"name": "locVI"},
          "mark": {"type": "line", "strokeWidth": 2.5, "clip": true},
          "encoding": {
            "x": {"field": "year", "type": "quantitative", "scale": {"domain": [2010, 2100], "nice": false, "zero": false}, "axis": {"title": null, "values": [2020, 2040, 2060, 2080, 2100], "format": "d"}},
            "y": {"field": "flux", "type": "quantitative", "scale": {"domain": [0.5, 2.73], "nice": false, "zero": false}, "axis": {"title": null, "values": [0.5, 0.75, 1, 1.25, 1.5, 1.75, 2, 2.25, 2.5], "format": ".2f"}},
            "color": {"field": "run", "type": "nominal", "title": null, "scale": {"domain": ["cn45", "mi45", "ca45", "cn85", "mi85", "ca85"], "range": ["#00bfbf", "#000000", "#bf00bf", "#00bfbf", "#000000", "#bf00bf"]}, "legend": {"labelExpr": "{'cn45':'RCP 4.5 CNRM-CM5','mi45':'RCP 4.5 MIROC5','ca45':'RCP 4.5 CanESM2','cn85':'RCP 8.5 CNRM-CM5','mi85':'RCP 8.5 MIROC5','ca85':'RCP 8.5 CanESM2'}[datum.label]"}},
            "strokeDash": {"field": "run", "type": "nominal", "title": null, "scale": {"domain": ["cn45", "mi45", "ca45", "cn85", "mi85", "ca85"], "range": [[1, 0], [1, 0], [1, 0], [9, 4.5], [9, 4.5], [9, 4.5]]}, "legend": {"labelExpr": "{'cn45':'RCP 4.5 CNRM-CM5','mi45':'RCP 4.5 MIROC5','ca45':'RCP 4.5 CanESM2','cn85':'RCP 8.5 CNRM-CM5','mi85':'RCP 8.5 MIROC5','ca85':'RCP 8.5 CanESM2'}[datum.label]"}}
          }
        },
        {"data": {"values": [{"flux": 1}]}, "mark": {"type": "rule", "color": "#0000ff", "strokeWidth": 2.8}, "encoding": {"y": {"field": "flux", "type": "quantitative"}}}
      ]
    }
  ]
}
